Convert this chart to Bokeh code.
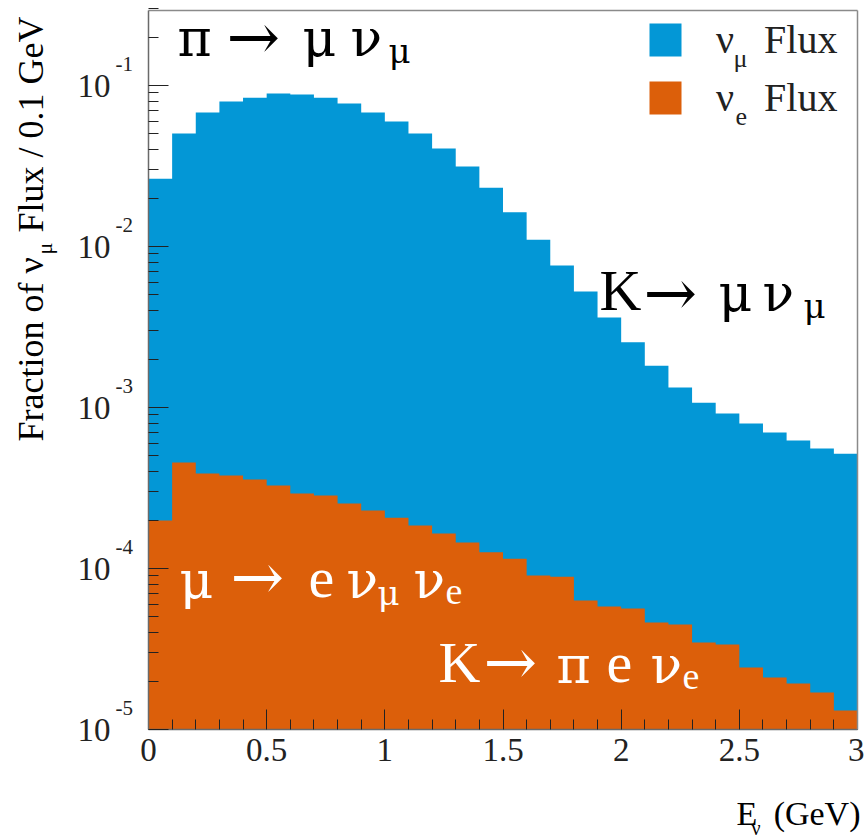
import math
from bokeh.plotting import figure
from bokeh.models import (FixedTicker, Label, Legend, LegendItem, CustomJSTickFormatter,
                          Range1d, LinearAxis, LogAxis)
from bokeh.embed import file_html
from bokeh.resources import INLINE

# ---- data ----
bin_edges = [0.0, 0.1, 0.2, 0.3, 0.4, 0.5, 0.6, 0.7, 0.8, 0.9, 1.0,
             1.1, 1.2, 1.3, 1.4, 1.5, 1.6, 1.7, 1.8, 1.9, 2.0,
             2.1, 2.2, 2.3, 2.4, 2.5, 2.6, 2.7, 2.8, 2.9, 3.0]
numu_flux = [0.0264, 0.0504, 0.0679, 0.0796, 0.0841, 0.0891, 0.0879, 0.0841, 0.0773, 0.0679,
             0.0597, 0.0504, 0.0406, 0.0314, 0.0232, 0.0163, 0.0110, 0.00762, 0.00525, 0.00362,
             0.00254, 0.00182, 0.00133, 0.00107, 0.000919, 0.000796, 0.000700, 0.000624, 0.000556, 0.000517]
nue_flux = [1.99e-4, 4.55e-4, 3.89e-4, 3.78e-4, 3.57e-4, 3.28e-4, 2.92e-4, 2.84e-4, 2.53e-4, 2.29e-4,
            2.07e-4, 1.85e-4, 1.65e-4, 1.45e-4, 1.26e-4, 1.15e-4, 9.05e-5, 8.9e-5, 6.33e-5, 5.81e-5,
            5.64e-5, 4.62e-5, 4.49e-5, 3.47e-5, 3.37e-5, 2.43e-5, 2.10e-5, 1.93e-5, 1.70e-5, 1.31e-5]
x_major_ticks = [0, 0.5, 1, 1.5, 2, 2.5, 3]
x_minor_ticks = [0.1, 0.2, 0.3, 0.4, 0.6, 0.7, 0.8, 0.9, 1.1, 1.2, 1.3, 1.4, 1.6, 1.7, 1.8, 1.9,
                 2.1, 2.2, 2.3, 2.4, 2.6, 2.7, 2.8, 2.9]
y_major_ticks = [1e-5, 1e-4, 1e-3, 1e-2, 1e-1]
y_exponents = ["-5", "-4", "-3", "-2", "-1"]
series_names = ["\u03bd\u00a0\u00a0\u00a0Flux", "\u03bd\u00a0\u00a0\u00a0Flux"]
series_subs = ["\u03bc", "e"]

Y_MIN, Y_MAX = 1e-5, 0.2924
X_MIN, X_MAX = 0.0, 3.0

BLUE = "#0397d6"
ORANGE = "#dc5f0a"
FONT = "Liberation Serif"
GREEK = "DejaVu Serif"

# geometry (pixels) of the histogram box inside the 864x838 canvas
W, H = 864, 838
FL, FR, FT, FB = 148, 857, 10, 729
XS = (FR - FL) / (X_MAX - X_MIN)
DEC = (FB - FT) / (math.log10(Y_MAX) - math.log10(Y_MIN))

x_lo = X_MIN - FL / XS
x_hi = X_MAX + (W - FR) / XS
y_lo = 10 ** (math.log10(Y_MIN) - (H - FB) / DEC)
y_hi = 10 ** (math.log10(Y_MIN) + FB / DEC)

p = figure(width=W, height=H, y_axis_type="log",
           x_range=Range1d(x_lo, x_hi), y_range=Range1d(y_lo, y_hi),
           output_backend="svg", toolbar_location=None,
           min_border_left=0, min_border_right=0, min_border_top=0, min_border_bottom=0)
p.xgrid.visible = False
p.ygrid.visible = False
p.background_fill_color = "white"
p.border_fill_color = "white"
p.outline_line_color = None

floor = [Y_MIN] * len(bin_edges)
r_mu = p.varea_step(x=bin_edges, y1=floor, y2=numu_flux + [numu_flux[-1]],
                    step_mode="after", fill_color=BLUE)
r_e = p.varea_step(x=bin_edges, y1=floor, y2=nue_flux + [nue_flux[-1]],
                   step_mode="after", fill_color=ORANGE)

# axes placed at the histogram box edges
p.xaxis.fixed_location = Y_MIN
p.xaxis.bounds = (X_MIN, X_MAX)
p.xaxis.ticker = FixedTicker(ticks=x_major_ticks, minor_ticks=x_minor_ticks)
p.xaxis.formatter = CustomJSTickFormatter(code="return tick.toString();")
yminor = []
for d in range(-5, 0):
    for m in range(2, 10):
        yminor.append(m * 10.0 ** d)
p.yaxis.fixed_location = X_MIN
p.yaxis.bounds = (Y_MIN, Y_MAX)
p.yaxis.ticker = FixedTicker(ticks=y_major_ticks, minor_ticks=yminor)
p.yaxis.formatter = CustomJSTickFormatter(code="return '10';")

for ax in (p.xaxis[0], p.yaxis[0]):
    ax.axis_line_color = "#6a6a6a"
    ax.axis_line_width = 1.5
    ax.major_tick_line_color = "#222222"
    ax.minor_tick_line_color = "#222222"
    ax.major_tick_in = 20
    ax.major_tick_out = 0
    ax.minor_tick_in = 10
    ax.minor_tick_out = 0
    ax.major_label_text_font = FONT
    ax.major_label_text_font_size = "33px"
    ax.major_label_text_color = "#222222"
p.xaxis.major_label_standoff = 9
p.yaxis.major_label_standoff = 38

# top and right edges of the box
top_edge = LinearAxis(fixed_location=Y_MAX, bounds=(X_MIN, X_MAX), ticker=FixedTicker(ticks=[]),
                      major_tick_in=0, major_tick_out=0, minor_tick_in=0, minor_tick_out=0,
                      major_label_text_font_size="0px", axis_line_color="#8a8a8a", axis_line_width=1.5)
right_edge = LogAxis(fixed_location=X_MAX, bounds=(Y_MIN, Y_MAX), ticker=FixedTicker(ticks=[]),
                     major_tick_in=0, major_tick_out=0, minor_tick_in=0, minor_tick_out=0,
                     major_label_text_font_size="0px", axis_line_color="#8a8a8a", axis_line_width=1.5)
p.add_layout(top_edge, "above")
p.add_layout(right_edge, "right")


def px2x(px):
    return X_MIN + (px - FL) / XS


def py2y(py):
    return 10 ** (math.log10(Y_MIN) + (FB - py) / DEC)


MID = 0.34  # distance (em) from the text baseline up to the middle of the text box


def lab(text, px, py, size, color="black", align="left", font=FONT, baseline=True):
    """px: horizontal anchor; py: baseline (or middle if baseline=False)."""
    ymid = py - MID * size if baseline else py
    l = Label(x=px2x(px), y=py2y(ymid), text=text, text_font=font,
              text_font_size=f"{size}px", text_color=color, text_align=align,
              text_baseline="middle")
    p.add_layout(l)


def vlab(text, bx, py, size, color="black", align="left", font=FONT):
    """Rotated (reading upwards) text; bx = baseline x, py = start (left) or end (right)."""
    xmid = bx - MID * size
    l = Label(x=px2x(xmid), y=py2y(py), text=text, text_font=font,
              text_font_size=f"{size}px", text_color=color, text_align=align,
              text_baseline="middle", angle=90, angle_units="deg")
    p.add_layout(l)


# y tick superscripts
for v, e in zip(y_major_ticks, y_exponents):
    pyv = FB - DEC * (math.log10(v) - math.log10(Y_MIN))
    lab(e, 115, pyv - 22, 21, color="#222222", baseline=False)

ARROW = "\u2192"
# pi -> mu nu_mu (black, top left)
lab("\u03c0", 177, 55, 52, font=GREEK)
lab(ARROW, 226, 58, 64, font=GREEK)
lab("\u03bc", 302, 55, 52, font=GREEK)
lab("\u03bd", 350, 55, 52, font=GREEK)
lab("\u03bc", 388, 62, 34, font=GREEK)
# K -> mu nu_mu (black)
lab("K", 599, 310, 58)
lab(ARROW, 643, 314, 64, font=GREEK)
lab("\u03bc", 718, 310, 52, font=GREEK)
lab("\u03bd", 762, 310, 52, font=GREEK)
lab("\u03bc", 803, 317, 34, font=GREEK)
# mu -> e nu_mu nu_e (white)
lab("\u03bc", 179, 597, 52, color="white", font=GREEK)
lab(ARROW, 230, 598, 64, color="white", font=GREEK)
lab("e", 308, 597, 58, color="white")
lab("\u03bd", 346, 597, 52, color="white", font=GREEK)
lab("\u03bc", 377, 604, 34, color="white", font=GREEK)
lab("\u03bd", 413, 597, 52, color="white", font=GREEK)
lab("e", 445, 604, 38, color="white")
# K -> pi e nu_e (white)
lab("K", 438, 682, 58, color="white")
lab(ARROW, 483, 683, 64, color="white", font=GREEK)
lab("\u03c0", 556, 682, 52, color="white", font=GREEK)
lab("e", 606, 682, 58, color="white")
lab("\u03bd", 650, 682, 52, color="white", font=GREEK)
lab("e", 682, 689, 38, color="white")

# axis titles
lab("E", 736, 825, 34)
lab("\u03bd", 751, 834, 20)
lab("(GeV)", 860, 825, 34, align="right")
vlab("Fraction of \u03bd", 43, 441, 36)
vlab("\u03bc", 51, 254, 22)
vlab("Flux / 0.1 GeV", 43, 16, 36, align="right")

# legend
legend = Legend(items=[LegendItem(label=series_names[0], renderers=[r_mu]),
                       LegendItem(label=series_names[1], renderers=[r_e])],
                location=(645, H - 121), orientation="vertical",
                padding=0, margin=0, spacing=11,
                glyph_width=40, glyph_height=41, label_height=46,
                label_standoff=31, label_text_font=FONT,
                label_text_font_size="40px", label_text_color="#222222",
                border_line_alpha=0, background_fill_alpha=0)
p.add_layout(legend)
lab(series_subs[0], 733, 67, 26, color="#222222")
lab(series_subs[1], 735, 125, 26, color="#222222")

open("out.html", "w").write(file_html(p, INLINE))
